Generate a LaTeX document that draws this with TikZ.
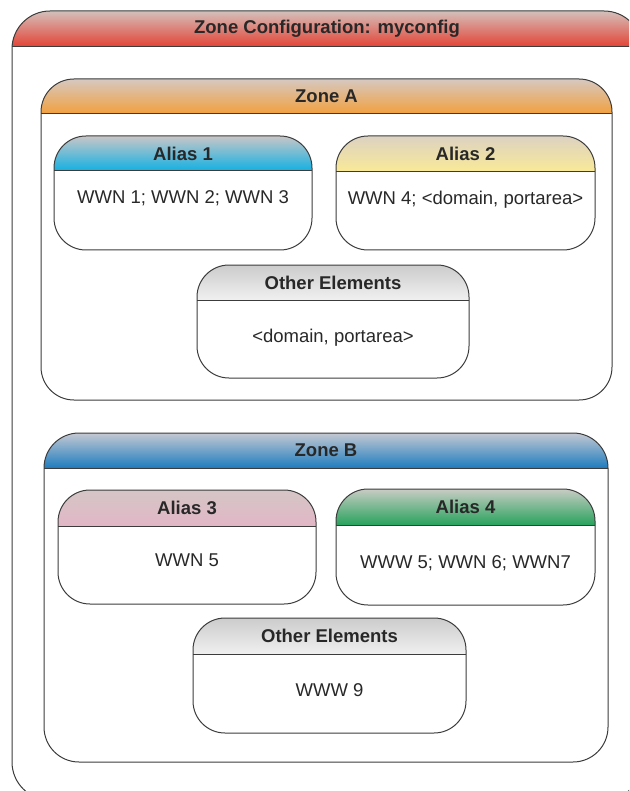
\documentclass[tikz,border=0pt]{standalone}
\usepackage{fontspec}
\setmainfont{Liberation Sans}
\usepackage{tikz}
\definecolor{lineg}{RGB}{60,60,60}
\definecolor{txtg}{RGB}{40,40,40}
\definecolor{cfg-t}{RGB}{212,192,186}
\definecolor{cfg-b}{RGB}{228,66,52}
\definecolor{zA-t}{RGB}{214,200,192}
\definecolor{zA-b}{RGB}{242,160,62}
\definecolor{zB-t}{RGB}{196,200,210}
\definecolor{zB-b}{RGB}{30,124,190}
\definecolor{a1-t}{RGB}{200,198,200}
\definecolor{a1-b}{RGB}{18,176,226}
\definecolor{a2-t}{RGB}{220,210,194}
\definecolor{a2-b}{RGB}{250,234,150}
\definecolor{a3-t}{RGB}{212,198,198}
\definecolor{a3-b}{RGB}{226,182,198}
\definecolor{a4-t}{RGB}{200,204,196}
\definecolor{a4-b}{RGB}{40,162,92}
\definecolor{oA-t}{RGB}{204,204,204}
\definecolor{oA-b}{RGB}{240,240,240}
\definecolor{oB-t}{RGB}{204,204,204}
\definecolor{oB-b}{RGB}{240,240,240}

\begin{document}
\begin{tikzpicture}[x=1pt,y=-1pt,
    every node/.style={text=txtg,font=\fontsize{18.5}{20}\selectfont},
    head/.style={font=\fontsize{18.5}{20}\selectfont\bfseries},
    frame/.style={draw=lineg,line width=1pt}]
  \useasboundingbox (0,0) rectangle (629,791);
  \clip (0,0) rectangle (629,791);
  % boxes with shaded headers
  \foreach \n/\xa/\ya/\xb/\yb/\hb/\r/\t in {
      cfg/12/11/642/800/47/38/{Zone Configuration: myconfig},
      zA/41/79/612/400/114/33/{Zone A},
      a1/54/136/312/250/171/32/{Alias 1},
      a2/336/136/595/250/172/32/{Alias 2},
      oA/197/265/469/378/300/32/{Other Elements},
      zB/44/433/608/762/468/35/{Zone B},
      a3/58/490/316/604/526/32/{Alias 3},
      a4/336/489/595/605/525/32/{Alias 4},
      oB/193/618/466/733/654/32/{Other Elements}}{
    \begin{scope}
      \clip[rounded corners=\r pt] (\xa,\ya) rectangle (\xb,\yb);
      \shade[top color=\n-t,bottom color=\n-b] (\xa,\ya) rectangle (\xb,\hb);
    \end{scope}
    \draw[frame,rounded corners=\r pt] (\xa,\ya) rectangle (\xb,\yb);
    \draw[frame] (\xa,\hb) -- (\xb,\hb);
    \node[head] (\n) at ({(\xa+\xb)/2},{(\ya+\hb)/2}) {\t};
  }
  % contents
  \foreach \n/\y/\s in {
      a1/198/{WWN 1; WWN 2; WWN 3},
      a2/200/{WWN 4; <domain, portarea>},
      oA/338/{<domain, portarea>},
      a3/560/{WWN 5},
      a4/563/{WWW 5; WWN 6; WWN7},
      oB/690/{WWW 9}}{
    \node (\n-body) at (\n |- 0,\y) {\s};
  }
\end{tikzpicture}
\end{document}
